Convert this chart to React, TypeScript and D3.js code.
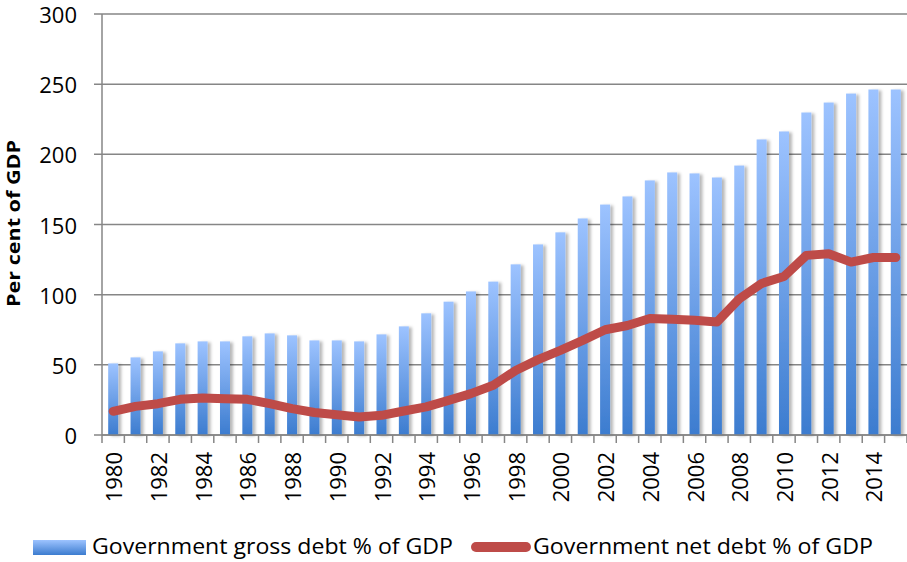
import React from "react"
import * as d3 from "d3"

// ---------- Data ----------
const years = [
    1980, 1981, 1982, 1983, 1984, 1985, 1986, 1987, 1988, 1989, 1990, 1991,
    1992, 1993, 1994, 1995, 1996, 1997, 1998, 1999, 2000, 2001, 2002, 2003,
    2004, 2005, 2006, 2007, 2008, 2009, 2010, 2011, 2012, 2013, 2014, 2015
]

const grossDebt = [
    51, 55.3, 59.6, 65.3, 66.7, 66.7, 70.3, 72.4, 71, 67.4, 67.4, 66.7,
    71.7, 77.4, 86.7, 95, 102.3, 109.3, 121.6, 135.8, 144.4, 154.3, 164.2, 170,
    181.4, 187.1, 186.4, 183.5, 192, 210.6, 216.3, 229.8, 236.9, 243.3, 246.2, 246.2
]

const netDebt = [
    16.9, 20.4, 22.3, 25.4, 26.4, 25.9, 25.4, 22.3, 18.8, 16, 14.5, 12.8,
    14, 17.1, 20, 24.7, 29.5, 35.4, 46, 53.7, 60.3, 67.4, 75, 78,
    83, 82.5, 81.7, 80.5, 97, 108, 113, 128, 129.2, 123.2, 126.5, 126.5
]

const yTicks = [0, 50, 100, 150, 200, 250, 300]

const grossLabel = "Government gross debt % of GDP"
const netLabel = "Government net debt % of GDP"
const yTitle = "Per cent of GDP"

// ---------- Layout ----------
const W = 907
const H = 562
const margin = { top: 14, right: 0, bottom: 127, left: 102 }
const plotRight = margin.left + years.length * 22.36

const FONT = "'Open Sans', 'Liberation Sans', sans-serif"
const GRID = "#868686"
const RED = "#BE4B48"

const App: React.FC = () => {
    const x = d3.scaleBand<number>()
        .domain(years)
        .range([margin.left, plotRight])
        .paddingInner(0)

    const y = d3.scaleLinear()
        .domain([0, 300])
        .range([H - margin.bottom, margin.top])

    const barW = 10
    const bw = x.bandwidth()

    const line = d3.line<number>()
        .x((_, i) => (x(years[i]) ?? 0) + bw / 2)
        .y(d => y(d))
        .curve(d3.curveLinear)

    const tickXs = [...years.map(yr => x(yr) ?? 0), plotRight]

    return (
        <svg
            width={W}
            height={H}
            style={{ position: "absolute", left: 0, top: 0, background: "#fff" }}
            fontFamily={FONT}
        >
            <defs>
                <linearGradient id="barGrad" x1="0" y1="0" x2="0" y2="1">
                    <stop offset="0%" stopColor="#9DC3FF" />
                    <stop offset="100%" stopColor="#3C7CCF" />
                </linearGradient>
                <filter id="barShadow" x="-50%" y="-5%" width="200%" height="110%">
                    <feDropShadow dx="3" dy="1" stdDeviation="1.6" floodColor="#000" floodOpacity="0.28" />
                </filter>
            </defs>

            {/* Grid lines + y ticks */}
            {yTicks.map(t => (
                <g key={t}>
                    <line
                        x1={margin.left - 8}
                        x2={W}
                        y1={y(t)}
                        y2={y(t)}
                        stroke={GRID}
                        strokeWidth={1.5}
                    />
                    <text
                        x={77}
                        y={y(t)}
                        textAnchor="end"
                        dominantBaseline="central"
                        fontSize={22}
                        fill="#000"
                    >
                        {t}
                    </text>
                </g>
            ))}

            {/* Y axis line */}
            <line
                x1={margin.left}
                x2={margin.left}
                y1={y(300)}
                y2={y(0)}
                stroke={GRID}
                strokeWidth={1.5}
            />

            {/* Bars */}
            <g filter="url(#barShadow)">
                {grossDebt.map((v, i) => (
                    <rect
                        key={years[i]}
                        x={(x(years[i]) ?? 0) + bw / 2 - barW / 2}
                        y={y(v)}
                        width={barW}
                        height={y(0) - y(v)}
                        fill="url(#barGrad)"
                    />
                ))}
            </g>

            {/* X axis */}
            <line x1={margin.left} x2={W} y1={y(0)} y2={y(0)} stroke={GRID} strokeWidth={1.5} />
            {tickXs.map((tx, i) => (
                <line key={i} x1={tx} x2={tx} y1={y(0)} y2={y(0) + 8} stroke={GRID} strokeWidth={1.5} />
            ))}
            {years.filter((_, i) => i % 2 === 0).map(yr => (
                <text
                    key={yr}
                    transform={`translate(${(x(yr) ?? 0) + bw / 2},${y(0) + 17}) rotate(-90)`}
                    textAnchor="end"
                    dominantBaseline="central"
                    fontSize={22}
                    fill="#000"
                >
                    {yr}
                </text>
            ))}

            {/* Net debt line */}
            <path
                d={line(netDebt) ?? ""}
                fill="none"
                stroke={RED}
                strokeWidth={9}
                strokeLinejoin="round"
                strokeLinecap="round"
            />

            {/* Y title */}
            <text
                transform={`translate(13,${(140 + 307) / 2}) rotate(-90)`}
                textAnchor="middle"
                dominantBaseline="central"
                fontSize={18}
                fontWeight="bold"
                textLength={167}
                lengthAdjust="spacingAndGlyphs"
                fill="#000"
            >
                {yTitle}
            </text>

            {/* Legend */}
            <rect x={33} y={540} width={53} height={15} fill="url(#barGrad)" />
            <text
                x={92}
                y={554}
                fontSize={22}
                textLength={361}
                lengthAdjust="spacingAndGlyphs"
                fill="#000"
            >
                {grossLabel}
            </text>
            <line x1={476} x2={526} y1={547} y2={547} stroke={RED} strokeWidth={10} strokeLinecap="round" />
            <text
                x={533}
                y={554}
                fontSize={22}
                textLength={340}
                lengthAdjust="spacingAndGlyphs"
                fill="#000"
            >
                {netLabel}
            </text>
        </svg>
    )
}

export default App
